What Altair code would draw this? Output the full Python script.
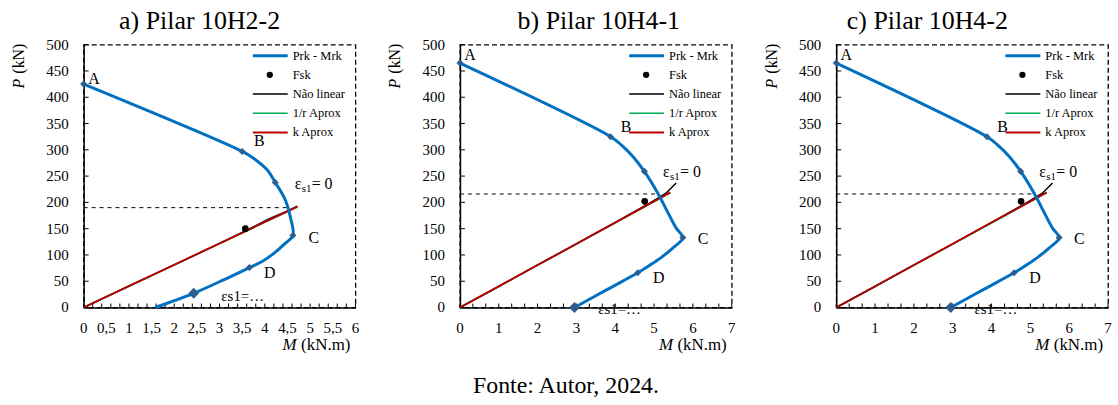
import altair as alt
import pandas as pd

FONT = "Liberation Serif"
BLUE = "#0070C0"
MARKC = "#2E5E8E"
W, H = 273, 264

panel_titles = ["a) Pilar 10H2-2", "b) Pilar 10H4-1", "c) Pilar 10H4-2"]
panel_xmax = [6, 7, 7]
y_tick_values = [0, 50, 100, 150, 200, 250, 300, 350, 400, 450, 500]

# ---------------- panel a: Pilar 10H2-2 ----------------
a_curve_M = [0.00, 3.50, 3.75, 4.05, 4.23, 4.45, 4.57, 4.62, 4.45, 4.20, 3.95, 3.66, 3.05, 2.43, 2.00, 1.58]
a_curve_P = [425, 297, 284, 262, 238, 205, 170, 137, 122, 103, 88, 76, 51, 27, 13, 0]
a_pts_M = [0.00, 3.50, 4.23, 4.62, 3.66]
a_pts_P = [425, 297, 238, 137, 76]
a_end_M = [2.43]
a_end_P = [27]
a_fsk_M = [3.57]
a_fsk_P = [150]
a_nl_M = [0, 1.0, 2.0, 3.0, 3.6, 4.1, 4.45, 4.72]
a_nl_P = [0, 41, 81, 122, 147, 169, 182, 193]
a_r_M = [0, 4.72]
a_r_P = [0, 191]
a_k_M = [0, 4.72]
a_k_P = [0, 192]
a_lim_M = [0, 4.55]
a_lim_P = 190
a_lbl_t = ["A", "B", "C", "D"]
a_lbl_M = [0.23, 3.88, 5.08, 4.11]
a_lbl_P = [435, 317, 132, 66]
a_eps0 = [4.66, 235]
a_eps1 = [3.04, 22]
a_xticks = [0, 0.5, 1, 1.5, 2, 2.5, 3, 3.5, 4, 4.5, 5, 5.5, 6]

# ---------------- panel b: Pilar 10H4-1 ----------------
b_curve_M = [0.00, 3.88, 4.16, 4.46, 4.75, 5.10, 5.36, 5.57, 5.74, 5.48, 5.18, 4.88, 4.58, 3.81, 2.95]
b_curve_P = [465, 325, 309, 287, 259, 217, 180, 151, 133, 113, 95, 80, 66, 35, 0]
b_pts_M = [0.00, 3.88, 4.75, 5.74, 4.58]
b_pts_P = [465, 325, 259, 133, 66]
b_end_M = [2.95]
b_end_P = [0]
b_fsk_M = [4.76]
b_fsk_P = [202]
b_nl_M = [0, 1, 2, 3, 4, 4.8, 5.3, 5.57]
b_nl_P = [0, 40, 81, 121, 162, 195, 217, 237]
b_r_M = [0, 5.42]
b_r_P = [0, 218]
b_k_M = [0, 5.42]
b_k_P = [0, 219]
b_lim_M = [0, 5.10]
b_lim_P = 216
b_lbl_t = ["A", "B", "C", "D"]
b_lbl_M = [0.26, 4.28, 6.26, 5.12]
b_lbl_P = [480, 344, 130, 57]
b_eps0 = [5.23, 258]
b_eps1 = [3.56, -2]
b_xticks = [0, 1, 2, 3, 4, 5, 6, 7]

# ---------------- panel c: Pilar 10H4-2 ----------------
c_curve_M = [0.00, 3.88, 4.16, 4.46, 4.75, 5.10, 5.36, 5.57, 5.74, 5.48, 5.18, 4.88, 4.58, 3.81, 2.95]
c_curve_P = [465, 325, 309, 287, 259, 217, 180, 151, 133, 113, 95, 80, 66, 35, 0]
c_pts_M = [0.00, 3.88, 4.75, 5.74, 4.58]
c_pts_P = [465, 325, 259, 133, 66]
c_end_M = [2.95]
c_end_P = [0]
c_fsk_M = [4.76]
c_fsk_P = [202]
c_nl_M = [0, 1, 2, 3, 4, 4.8, 5.3, 5.57]
c_nl_P = [0, 40, 81, 121, 162, 195, 217, 237]
c_r_M = [0, 5.42]
c_r_P = [0, 218]
c_k_M = [0, 5.42]
c_k_P = [0, 219]
c_lim_M = [0, 5.10]
c_lim_P = 216
c_lbl_t = ["A", "B", "C", "D"]
c_lbl_M = [0.26, 4.28, 6.26, 5.12]
c_lbl_P = [480, 344, 130, 57]
c_eps0 = [5.23, 258]
c_eps1 = [3.56, -2]
c_xticks = [0, 1, 2, 3, 4, 5, 6, 7]

legend_labels = ["Prk - Mrk", "Fsk", "Não linear", "1/r Aprox", "k Aprox"]
legend_colors = [BLUE, "black", "black", "#00B050", "#C00000"]
legend_widths = [3, 0, 1.5, 1.5, 2]

caption = "Fonte: Autor, 2024."
title_dx = [-20, 3, -45]

panels = [
    dict(curve=(a_curve_M, a_curve_P), pts=(a_pts_M, a_pts_P), end=(a_end_M, a_end_P),
         fsk=(a_fsk_M, a_fsk_P), nl=(a_nl_M, a_nl_P), r=(a_r_M, a_r_P), k=(a_k_M, a_k_P),
         lim=(a_lim_M, a_lim_P), lbl=(a_lbl_t, a_lbl_M, a_lbl_P), eps0=a_eps0, eps1=a_eps1,
         xticks=a_xticks, minor=0.2),
    dict(curve=(b_curve_M, b_curve_P), pts=(b_pts_M, b_pts_P), end=(b_end_M, b_end_P),
         fsk=(b_fsk_M, b_fsk_P), nl=(b_nl_M, b_nl_P), r=(b_r_M, b_r_P), k=(b_k_M, b_k_P),
         lim=(b_lim_M, b_lim_P), lbl=(b_lbl_t, b_lbl_M, b_lbl_P), eps0=b_eps0, eps1=b_eps1,
         xticks=b_xticks, minor=1 / 3),
    dict(curve=(c_curve_M, c_curve_P), pts=(c_pts_M, c_pts_P), end=(c_end_M, c_end_P),
         fsk=(c_fsk_M, c_fsk_P), nl=(c_nl_M, c_nl_P), r=(c_r_M, c_r_P), k=(c_k_M, c_k_P),
         lim=(c_lim_M, c_lim_P), lbl=(c_lbl_t, c_lbl_M, c_lbl_P), eps0=c_eps0, eps1=c_eps1,
         xticks=c_xticks, minor=1 / 3),
]


def make_panel(i, d):
    xmax = panel_xmax[i]
    xaxis = alt.Axis(labels=False, ticks=False, tickSize=0, grid=False, domainColor="black",
                     domainWidth=1.5, title=None)
    yaxis = alt.Axis(labels=False, ticks=False, tickSize=0, grid=False, domainColor="black",
                     domainWidth=1.5, title=None)
    xs = alt.Scale(domain=[0, xmax], nice=False, zero=True)
    ys = alt.Scale(domain=[0, 500], nice=False)
    X = alt.X("M:Q", scale=xs, axis=xaxis)
    Y = alt.Y("P:Q", scale=ys, axis=yaxis)

    def df(M, P, **extra):
        out = pd.DataFrame({"M": M, "P": P})
        for k, v in extra.items():
            out[k] = v
        return out

    layers = []
    lim_df = pd.DataFrame({"M": [d["lim"][0][0]], "M2": [d["lim"][0][1]], "P": [d["lim"][1]]})
    layers.append(alt.Chart(lim_df).mark_rule(color="black", strokeDash=[4, 4], strokeWidth=1)
                  .encode(x=X, x2="M2:Q", y=Y))
    # inward ticks
    nmin = int(round(xmax / d["minor"]))
    tick_df = pd.DataFrame({"M": [k * d["minor"] for k in range(nmin + 1)], "P": 0})
    layers.append(alt.Chart(tick_df).mark_rule(color="black", strokeWidth=1)
                  .encode(x=X, y=alt.value(H), y2=alt.value(H - 4)))
    ytick_df = pd.DataFrame({"M": 0, "P": y_tick_values})
    layers.append(alt.Chart(ytick_df).mark_rule(color="black", strokeWidth=1)
                  .encode(y=Y, x=alt.value(0), x2=alt.value(5)))
    # tick labels through the scales
    layers.append(alt.Chart(ytick_df).mark_text(font=FONT, fontSize=15, color="black",
                                                align="right", baseline="middle")
                  .encode(y=Y, x=alt.value(-15), text=alt.Text("P:Q", format="d")))
    xl_df = pd.DataFrame({"M": d["xticks"], "P": 0,
                          "lab": [str(int(v)) if float(v).is_integer() else str(v).replace(".", ",")
                                  for v in d["xticks"]]})
    layers.append(alt.Chart(xl_df).mark_text(font=FONT, fontSize=15, color="black",
                                             align="center", baseline="middle")
                  .encode(x=X, y=alt.value(H + 21), text="lab:N"))
    # approximations
    r_df = df(*d["r"], o=range(len(d["r"][0])))
    layers.append(alt.Chart(r_df).mark_line(color="#00B050", strokeWidth=1.5)
                  .encode(x=X, y=Y, order="o:Q"))
    nl_df = df(*d["nl"], o=range(len(d["nl"][0])))
    layers.append(alt.Chart(nl_df).mark_line(color="black", strokeWidth=1.5)
                  .encode(x=X, y=Y, order="o:Q"))
    k_df = df(*d["k"], o=range(len(d["k"][0])))
    layers.append(alt.Chart(k_df).mark_line(color="#C00000", strokeWidth=1.8)
                  .encode(x=X, y=Y, order="o:Q"))
    # interaction curve
    c_df = df(*d["curve"], o=range(len(d["curve"][0])))
    layers.append(alt.Chart(c_df).mark_line(color=BLUE, strokeWidth=3, interpolate="catmull-rom")
                  .encode(x=X, y=Y, order="o:Q"))
    layers.append(alt.Chart(df(*d["pts"])).mark_point(shape="diamond", filled=True, opacity=1,
                                                      size=50, color=MARKC)
                  .encode(x=X, y=Y))
    layers.append(alt.Chart(df(*d["end"])).mark_point(shape="diamond", filled=True, opacity=1,
                                                      size=120, color=MARKC)
                  .encode(x=X, y=Y))
    layers.append(alt.Chart(df(*d["fsk"])).mark_circle(size=45, color="black", opacity=1)
                  .encode(x=X, y=Y))
    # point labels
    t, lm, lp = d["lbl"]
    lbl_df = pd.DataFrame({"M": lm, "P": lp, "t": t})
    layers.append(alt.Chart(lbl_df).mark_text(font=FONT, fontSize=16, color="black",
                                              align="center", baseline="middle")
                  .encode(x=X, y=Y, text="t:N"))
    e0 = pd.DataFrame({"M": [d["eps0"][0]], "P": [d["eps0"][1]]})
    layers.append(alt.Chart(e0).mark_text(font=FONT, fontSize=16, color="black", align="left",
                                          baseline="middle", text="ε").encode(x=X, y=Y))
    layers.append(alt.Chart(e0).mark_text(font=FONT, fontSize=11, color="black", align="left",
                                          baseline="middle", text="s1", dx=7, dy=5).encode(x=X, y=Y))
    layers.append(alt.Chart(e0).mark_text(font=FONT, fontSize=16, color="black", align="left",
                                          baseline="middle", text="= 0", dx=17).encode(x=X, y=Y))
    e1 = pd.DataFrame({"M": [d["eps1"][0]], "P": [d["eps1"][1]]})
    layers.append(alt.Chart(e1).mark_text(font=FONT, fontSize=15, color="black", align="left",
                                          baseline="middle", text="εs1=…").encode(x=X, y=Y))
    # legend (inside plot, top right)
    one = pd.DataFrame({"z": [0]})
    for j, (lab, col, lw) in enumerate(zip(legend_labels, legend_colors, legend_widths)):
        ly = 11 + 19.3 * j
        if lab == "Fsk":
            layers.append(alt.Chart(one).mark_circle(size=40, color="black", opacity=1)
                          .encode(x=alt.value(187), y=alt.value(ly)))
        else:
            layers.append(alt.Chart(one).mark_rule(color=col, strokeWidth=lw)
                          .encode(x=alt.value(170), x2=alt.value(205), y=alt.value(ly)))
        layers.append(alt.Chart(one).mark_text(font=FONT, fontSize=12.5, color="black",
                                               align="left", baseline="middle", text=lab)
                      .encode(x=alt.value(210), y=alt.value(ly)))
    # axis titles (italic variable + unit)
    layers.append(alt.Chart(one).mark_text(font=FONT, fontSize=17, color="black", align="right",
                                           baseline="middle", text="(kN.m)")
                  .encode(x=alt.value(W - 5), y=alt.value(H + 38)))
    layers.append(alt.Chart(one).mark_text(font=FONT, fontSize=17, color="black", align="right",
                                           baseline="middle", text="M", fontStyle="italic")
                  .encode(x=alt.value(W - 59), y=alt.value(H + 38)))
    layers.append(alt.Chart(one).mark_text(font=FONT, fontSize=16, color="black", align="center",
                                           baseline="middle", text="(kN)", angle=270)
                  .encode(x=alt.value(-65), y=alt.value(14)))
    layers.append(alt.Chart(one).mark_text(font=FONT, fontSize=16, color="black", align="center",
                                           baseline="middle", text="P", fontStyle="italic", angle=270)
                  .encode(x=alt.value(-65), y=alt.value(39)))
    # panel title
    layers.append(alt.Chart(one).mark_text(font=FONT, fontSize=26, color="black", align="center",
                                           baseline="alphabetic", text=panel_titles[i])
                  .encode(x=alt.value(W / 2 + title_dx[i]), y=alt.value(-16)))
    # figure source caption (centred under the figure, drawn with the middle panel)
    if i == 1:
        layers.append(alt.Chart(one).mark_text(font=FONT, fontSize=24, color="black", align="center",
                                               baseline="middle", text=caption)
                      .encode(x=alt.value(W / 2 - 30), y=alt.value(H + 79)))

    return alt.layer(*layers).properties(width=W, height=H)


charts = [make_panel(i, d) for i, d in enumerate(panels)]
chart = alt.hconcat(*charts, spacing=26).properties(
    padding={"left": 10, "top": 6, "right": 5, "bottom": 0},
).configure(font=FONT).configure_view(stroke="black", strokeDash=[5, 3], strokeWidth=1.3)

chart.save("out.html", embed_options={"renderer": "svg", "actions": False})
